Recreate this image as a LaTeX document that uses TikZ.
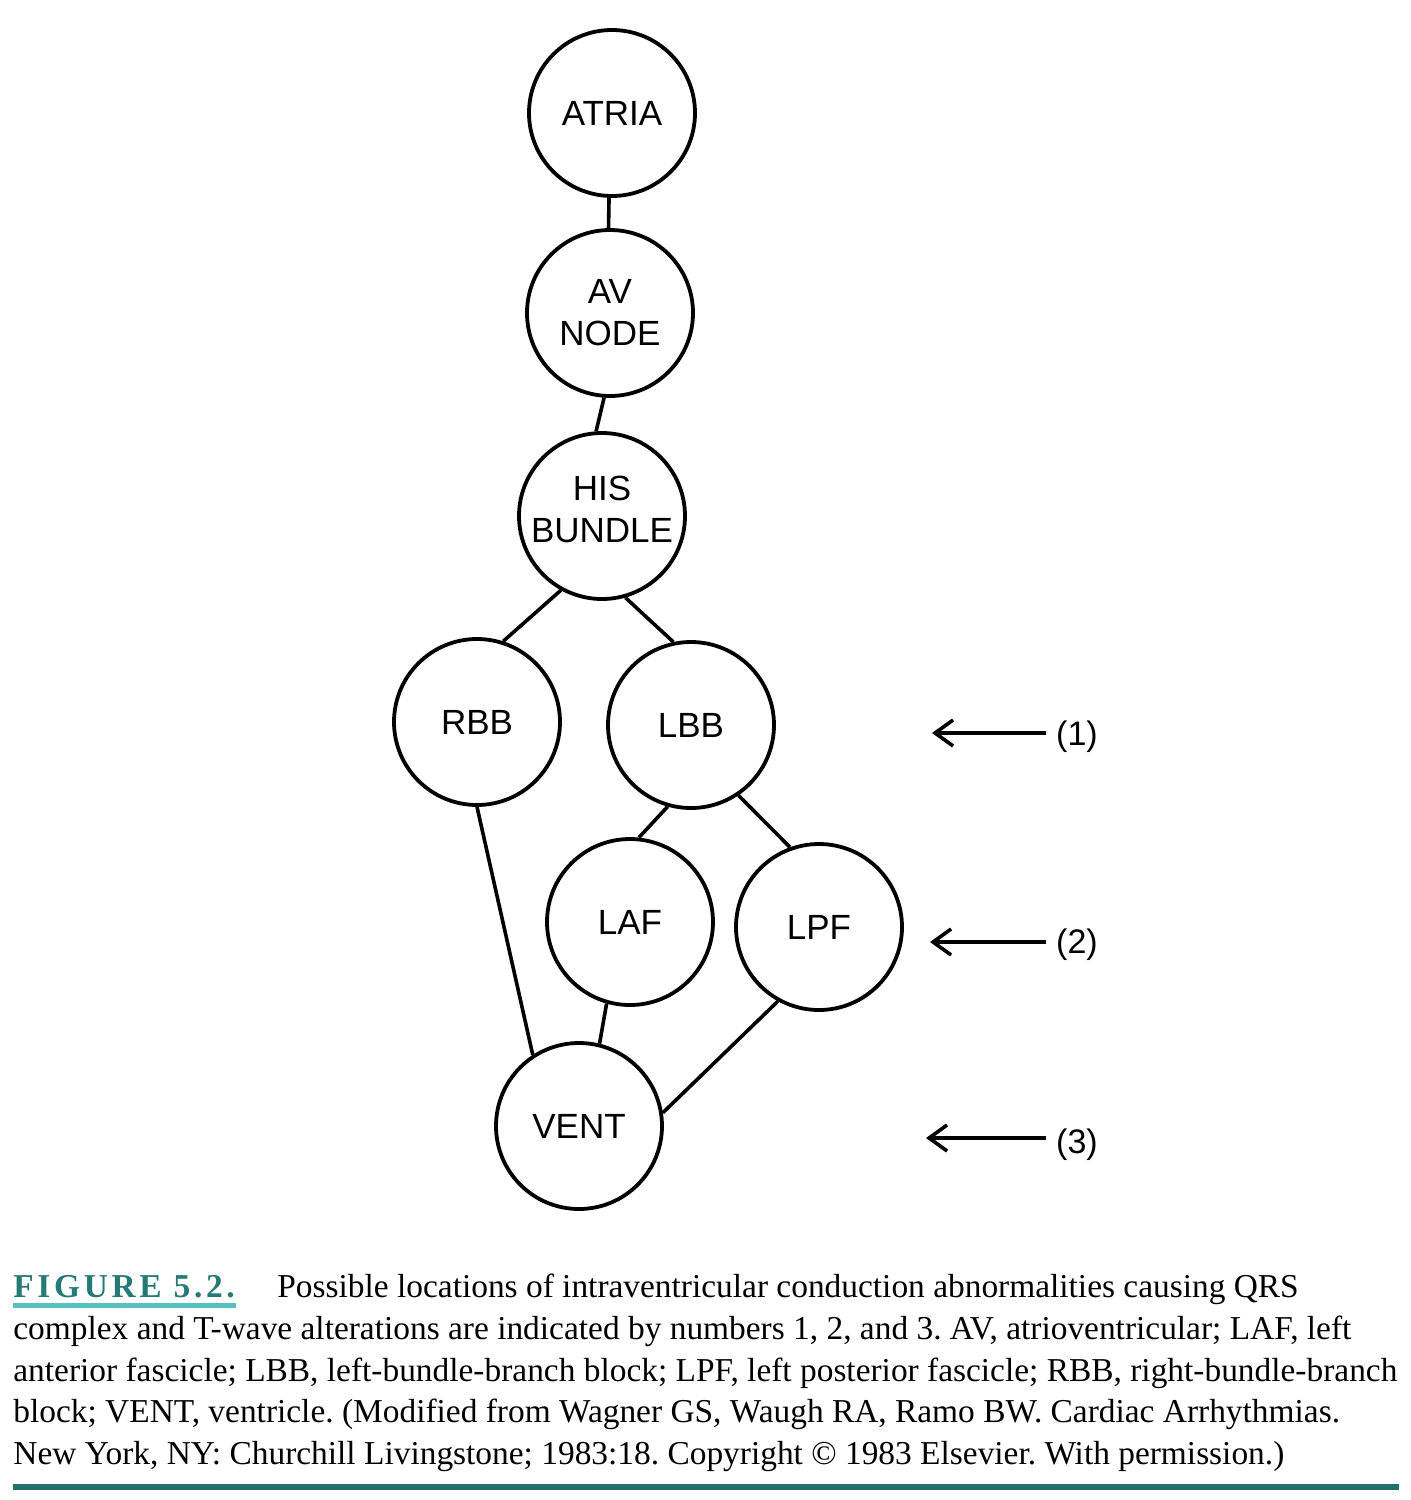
\documentclass[tikz,border=0pt]{standalone}
\usepackage{fontspec}
\setmainfont{Liberation Serif}
\newfontfamily\helv{Liberation Sans}
\usetikzlibrary{arrows.meta}
\definecolor{figteal}{RGB}{38,122,118}
\definecolor{barteal}{RGB}{88,192,192}
\definecolor{ruleteal}{RGB}{34,112,106}
\frenchspacing
\begin{document}
\begin{tikzpicture}[x=0.5pt,y=-0.5pt,
  site/.style={circle,draw,line width=1.9pt,minimum size=83pt,inner sep=0pt,
    font=\helv\fontsize{17.5}{21}\selectfont,align=center},
  sitetext/.style={font=\helv\fontsize{17.5}{21}\selectfont,align=center,inner sep=0pt},
  link/.style={line width=1.8pt},
  marker/.style={line width=1.8pt,shorten <=5pt,
    -{Straight Barb[length=9pt,width=13pt,line width=1.8pt]}},
  level/.style={font=\helv\fontsize{17}{20}\selectfont,inner sep=0pt},
  capline/.style={anchor=base west,inner sep=0pt,font=\fontsize{16.7}{20}\selectfont}]

\useasboundingbox (0,0) rectangle (1411,1500);

% conduction sites
\node[site] (atria) at (612,113) {ATRIA};
\node[site] (av)    at (610,313) {AV\\NODE};
\node[site,label={[sitetext,yshift=3.5pt]center:HIS\\BUNDLE}] (his) at (602,516) {};
\node[site] (rbb)   at (477,722) {RBB};
\node[site] (lbb)   at (691,725) {LBB};
\node[site] (laf)   at (630,922) {LAF};
\node[site] (lpf)   at (819,927) {LPF};
\node[site] (vent)  at (579,1126) {VENT};

% conduction pathways
\draw[link] (atria.268) -- (av.91);
\draw[link] (av.266) -- (his.94);
\draw[link] (his.241) -- (rbb.72);
\draw[link] (his.286) -- (lbb.102);
\draw[link] (lbb.254) -- (laf.84);
\draw[link] (lbb.304) -- (lpf.110);
\draw[link] (rbb.270) -- (vent.123);
\draw[link] (laf.254) -- (vent.76);
\draw[link] (lpf.241) -- (vent.9);

% block levels
\node[level] (l1) at (1077,737) {(1)};
\node[level] (l2) at (1077,945) {(2)};
\node[level] (l3) at (1077,1145) {(3)};
\coordinate (t1) at (932,733);
\coordinate (t2) at (930,942);
\coordinate (t3) at (926,1138);
\draw[marker] (l1.west |- t1) -- (t1);
\draw[marker] (l2.west |- t2) -- (t2);
\draw[marker] (l3.west |- t3) -- (t3);

% caption
\node[capline,text=figteal,font=\bfseries\fontsize{16.7}{20}\selectfont\addfontfeature{LetterSpace=11}] (fig) at (13,1297) {FIGURE 5.2.};
\fill[barteal] (13,1303) rectangle (236,1308);
\node[capline] (c1) at (277,1297) {Possible locations of intraventricular conduction abnormalities causing QRS};
\node[capline] (c2) at (13,1339) {complex and T-wave alterations are indicated by numbers 1, 2, and 3. AV, atrioventricular; LAF, left};
\node[capline] (c3) at (13,1381) {anterior fascicle; LBB, left-bundle-branch block; LPF, left posterior fascicle; RBB, right-bundle-branch};
\node[capline] (c4) at (13,1422) {block; VENT, ventricle. (Modified from Wagner GS, Waugh RA, Ramo BW. Cardiac Arrhythmias.};
\node[capline] (c5) at (13,1464) {New York, NY: Churchill Livingstone; 1983:18. Copyright \textcopyright{} 1983 Elsevier. With permission.)};
\fill[ruleteal] (13,1484) rectangle (1399,1490);
\end{tikzpicture}
\end{document}
